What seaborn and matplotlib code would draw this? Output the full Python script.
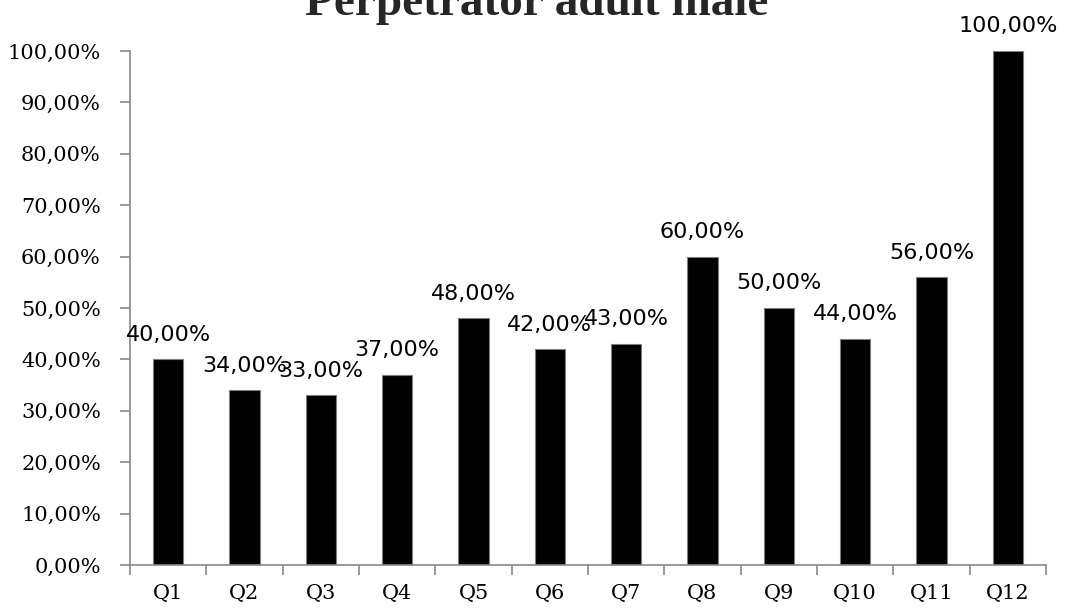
import matplotlib
matplotlib.use("Agg")
import matplotlib.pyplot as plt
import seaborn as sns
import numpy as np
import pandas as pd
from matplotlib.ticker import FuncFormatter, FixedLocator

categories = ["Q1", "Q2", "Q3", "Q4", "Q5", "Q6", "Q7", "Q8", "Q9", "Q10", "Q11", "Q12"]
values = [0.40, 0.34, 0.33, 0.37, 0.48, 0.42, 0.43, 0.60, 0.50, 0.44, 0.56, 1.00]
title = "Perpetrator adult male"

sns.set_theme(style="white")
plt.rcParams['font.family'] = ['DejaVu Serif', 'DejaVu Sans']

df = pd.DataFrame({"q": categories, "v": values})

fig = plt.figure(figsize=(10.84, 6.16), dpi=100)
ax = fig.add_axes([130/1084, (616-565)/616, (1046-130)/1084, (565-51)/616])

sns.barplot(data=df, x="q", y="v", color="black", width=0.4, ax=ax,
            edgecolor="#7f7f7f", linewidth=0.8, saturation=1)

ax.set_xlim(-0.5, len(categories) - 0.5)
ax.set_ylim(0, 1.0)
ax.set_yticks(np.arange(0, 1.01, 0.1))
fmt = lambda v, p: f"{v*100:.2f}%".replace(".", ",")
ax.yaxis.set_major_formatter(FuncFormatter(fmt))
ax.set_xlabel("")
ax.set_ylabel("")

for c in ax.containers:
    labels = [f"{v*100:.2f}%".replace(".", ",") for v in c.datavalues]
    ax.bar_label(c, labels=labels, padding=10.5, fontsize=16, family="DejaVu Sans", color="black")

for s in ["top", "right"]:
    ax.spines[s].set_visible(False)
for s in ["left", "bottom"]:
    ax.spines[s].set_color("#888888")
    ax.spines[s].set_linewidth(1.2)

ax.tick_params(axis="y", which="major", left=True, length=7, width=1.2, color="#888888",
               pad=14, labelsize=15, labelcolor="black")
ax.tick_params(axis="x", which="major", bottom=False, length=0, pad=14, labelsize=15, labelcolor="black")
ax.xaxis.set_minor_locator(FixedLocator(np.arange(-0.5, len(categories), 1.0)))
ax.tick_params(axis="x", which="minor", bottom=True, length=7, width=1.2, color="#888888")

fig.text(537/1084, (616-15)/616, title, ha="center", va="baseline",
         fontsize=34, fontweight="bold", family="Liberation Serif")

fig.savefig("out.png", dpi=100)
